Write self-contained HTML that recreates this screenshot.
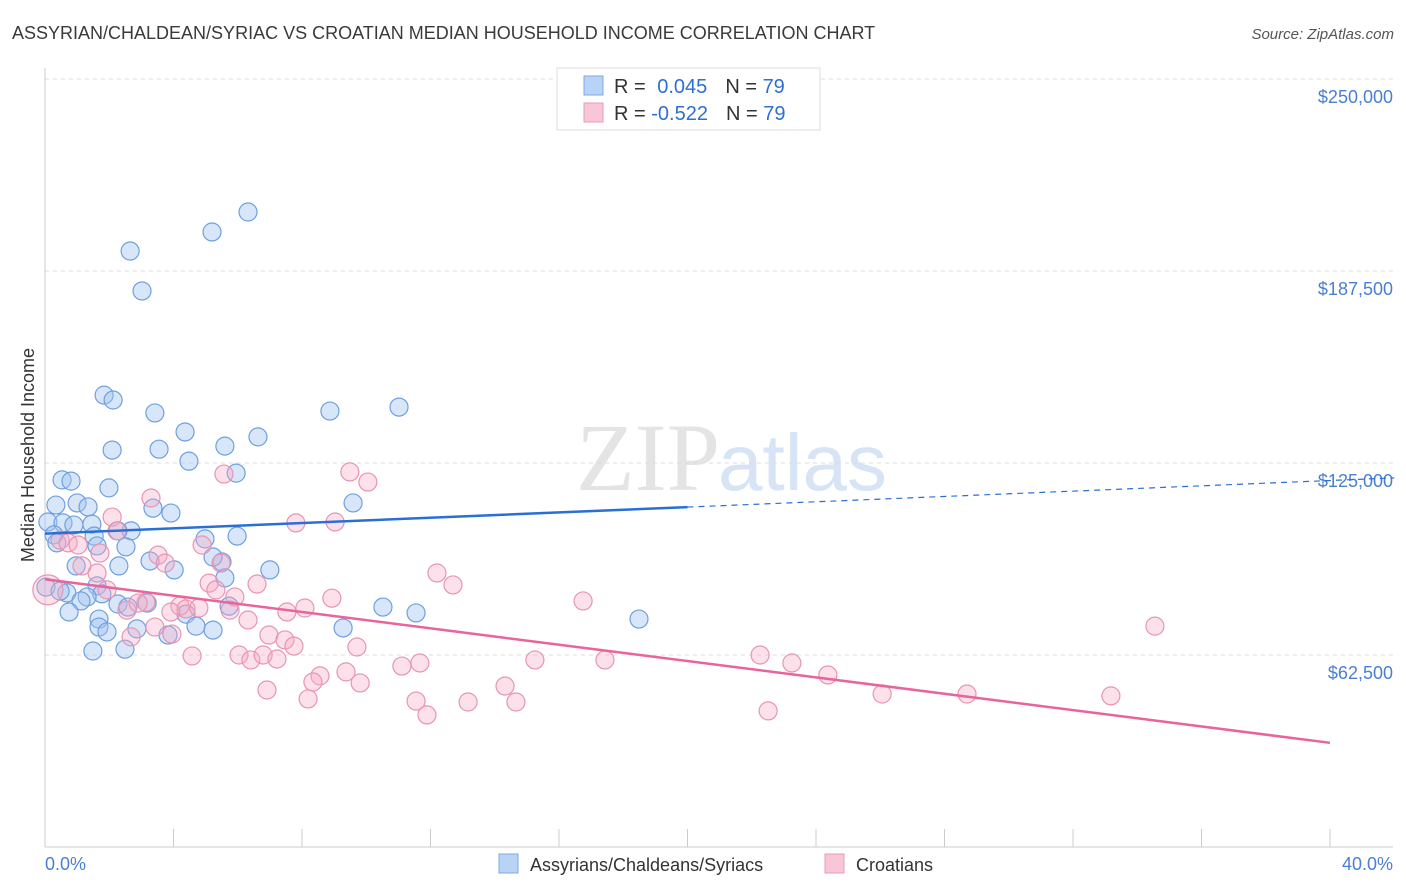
<!DOCTYPE html>
<html><head><meta charset="utf-8"><style>
body{margin:0;background:#fff;font-family:"Liberation Sans",sans-serif}
svg{display:block}
</style></head><body>
<svg id="c" width="1406" height="892" xmlns="http://www.w3.org/2000/svg">
<text x="12" y="39" font-size="18" fill="#3a3a3a">ASSYRIAN/CHALDEAN/SYRIAC VS CROATIAN MEDIAN HOUSEHOLD INCOME CORRELATION CHART</text>
<text x="1394" y="39" font-size="15" fill="#555" font-style="italic" text-anchor="end">Source: ZipAtlas.com</text>
<text x="720" y="490" font-size="96" fill="#e4e4e4" text-anchor="end" font-family="Liberation Serif">ZIP</text>
<text x="718" y="490" font-size="80" fill="#d6e4f5">atlas</text>
<text x="34" y="455" font-size="18" fill="#333" text-anchor="middle" transform="rotate(-90 34 455)">Median Household Income</text>
<g id="grid"></g><g id="pts"></g><g id="trend"></g>
<g>
<rect x="557" y="68" width="263" height="62" fill="#fff" stroke="#ddd"/>
<rect x="584" y="76" width="19" height="19" fill="#b8d3f5" stroke="#7ea8e0"/>
<rect x="584" y="103" width="19" height="19" fill="#f9c6d6" stroke="#e89ab5"/>
<text x="614" y="93" font-size="20" fill="#333">R = <tspan fill="#2f6fd0" dx="6">0.045</tspan><tspan dx="18" fill="#333">N = </tspan><tspan fill="#2f6fd0">79</tspan></text>
<text x="614" y="120" font-size="20" fill="#333">R = <tspan fill="#2f6fd0">-0.522</tspan><tspan dx="18" fill="#333">N = </tspan><tspan fill="#2f6fd0">79</tspan></text>
</g>
<text x="45" y="870" font-size="18" fill="#4a7fd4">0.0%</text>
<text x="1393" y="870" font-size="18" fill="#4a7fd4" text-anchor="end">40.0%</text>
<g>
<rect x="499" y="854" width="19" height="19" fill="#b8d3f5" stroke="#7ea8e0"/>
<text x="530" y="871" font-size="18" fill="#333">Assyrians/Chaldeans/Syriacs</text>
<rect x="825" y="854" width="19" height="19" fill="#f9c6d6" stroke="#e89ab5"/>
<text x="856" y="871" font-size="18" fill="#333">Croatians</text>
</g>
</svg>
<script>
const yTicks=[62500,125000,187500,250000];
const yTickLabels=["$62,500","$125,000","$187,500","$250,000"];
const xTicks=[0,4,8,12,16,20,24,28,32,36,40];
const blueX=[6.32,5.20,2.65,3.02,1.84,2.12,3.42,8.87,11.02,4.36,6.63,5.60,2.09,3.55,4.48,5.95,0.53,0.81,1.99,0.34,3.36,1.00,3.92,9.59,1.34,0.09,0.56,0.90,1.46,4.98,5.98,2.68,2.27,0.28,1.53,0.37,1.62,2.52,3.27,5.51,5.23,7.00,0.97,2.30,4.02,5.60,1.62,0.68,1.77,1.31,1.12,3.18,2.27,5.73,10.52,11.55,1.68,0.75,4.39,2.58,18.49,1.68,1.93,4.70,9.28,5.23,2.86,3.83,1.49,2.49,0.03,0.47];
const blueY=[206.7,200.2,194.0,181.0,147.1,145.5,141.3,141.9,143.2,135.1,133.5,130.5,129.2,129.5,125.6,121.7,119.5,119.1,116.9,111.3,110.3,112.0,108.7,112.0,110.7,105.8,105.5,104.8,105.1,100.3,101.2,102.9,102.9,101.6,101.2,99.0,98.0,97.7,93.1,92.8,94.4,90.2,91.5,91.5,90.2,87.6,85.0,82.7,82.4,81.4,80.1,79.4,79.1,78.4,78.1,76.2,74.2,76.5,75.8,78.1,74.2,71.6,70.0,71.9,71.3,70.6,71.0,69.0,63.8,64.4,84.6,83.3];
const pinkX=[34.55,9.49,10.05,5.57,3.30,7.81,9.03,2.09,2.24,0.47,0.72,1.03,1.71,3.52,4.89,3.74,5.48,12.20,12.70,6.60,5.11,5.91,5.32,1.62,1.15,1.93,16.75,8.93,8.09,7.53,4.20,4.39,4.79,3.14,2.55,2.90,3.92,5.76,6.32,3.42,2.68,6.97,7.47,7.75,9.71,3.95,4.58,6.04,6.41,6.79,7.22,11.67,11.11,15.25,17.43,22.26,23.25,24.37,8.56,8.34,9.37,9.81,14.32,6.91,8.19,11.55,13.17,14.66,11.89,22.51,26.06,28.70,33.18,0.09];
const pinkY=[71.9,122.1,118.8,121.4,113.6,105.5,105.8,107.4,102.9,99.9,99.0,98.3,95.7,95.0,98.3,92.4,92.4,89.2,85.3,85.6,85.9,81.4,83.7,89.2,91.5,83.7,80.1,81.0,77.8,76.5,78.4,77.5,77.8,79.7,77.1,79.4,76.5,77.1,73.9,71.6,68.4,69.0,67.4,65.4,65.1,69.3,62.2,62.5,60.9,62.5,61.2,59.9,58.9,60.9,60.9,62.5,59.9,56.0,55.7,53.7,57.0,53.4,52.4,51.1,48.2,47.5,47.2,47.2,43.0,44.3,49.8,49.8,49.2,83.7];
const NS="http://www.w3.org/2000/svg";
const X0=45,X1=1330,YB=847,PX_PER=192/62500;
function sx(p){return X0+p/40*(X1-X0);}
function sy(v){return YB-v*PX_PER;}
function mk(t,a,parent){const e=document.createElementNS(NS,t);for(const k in a)e.setAttribute(k,a[k]);parent.appendChild(e);return e;}
const grid=document.getElementById('grid');
yTicks.forEach((v,i)=>{
 const l=mk('line',{x1:45,x2:1393,y1:sy(v),y2:sy(v),stroke:'#ddd','stroke-dasharray':'4,4'},grid);
 
 
 const t=mk('text',{x:1393,y:sy(v)+24,'font-size':18,fill:'#4a7fd4','text-anchor':'end'},grid);
 t.textContent=yTickLabels[i];
 
 
});
const ax=mk('line',{x1:45,x2:45,y1:68,y2:847,stroke:'#ccc'},grid);


const bx=mk('line',{x1:45,x2:1393,y1:847,y2:847,stroke:'#ccc'},grid);


xTicks.forEach(p=>{
 const l=mk('line',{x1:sx(p),x2:sx(p),y1:829,y2:847,stroke:'#ccc'},grid);
 
 
});
const pts=document.getElementById('pts');
function draw(xs,ys,fill,stroke,name){
 xs.forEach((x,i)=>{
  const r=(x<0.2&&name==='pink-point')?15:9;
  const c=mk('circle',{cx:sx(x),cy:sy(ys[i]*1000),r:r,fill:fill,stroke:stroke,'stroke-width':1.2},pts);
  
  
 });
}
draw(blueX,blueY,'rgba(160,196,240,0.42)','#6f9fe0','blue-point');
draw(pinkX,pinkY,'rgba(245,170,195,0.35)','#e894b2','pink-point');
function reg(xs,ys){const n=xs.length;let mx=0,my=0;for(let i=0;i<n;i++){mx+=xs[i];my+=ys[i];}mx/=n;my/=n;let sxy=0,sxx=0;for(let i=0;i<n;i++){sxy+=(xs[i]-mx)*(ys[i]-my);sxx+=(xs[i]-mx)**2;}const b=sxy/sxx;return [my-b*mx,b];}
const tr=document.getElementById('trend');
const [ba,bb]=reg(blueX,blueY),[pa,pb]=reg(pinkX,pinkY);
const l1=mk('line',{x1:sx(0),y1:sy((ba)*1000),x2:sx(20),y2:sy((ba+bb*20)*1000),stroke:'#2a6fd6','stroke-width':2.5},tr);


const l2=mk('line',{x1:sx(20),y1:sy((ba+bb*20)*1000),x2:sx(42),y2:sy((ba+bb*42)*1000),stroke:'#2a6fd6','stroke-width':1.2,'stroke-dasharray':'6,5'},tr);


const l3=mk('line',{x1:sx(0),y1:sy(pa*1000),x2:sx(40),y2:sy((pa+pb*40)*1000),stroke:'#e8649a','stroke-width':2.5},tr);


</script>
</body></html>
